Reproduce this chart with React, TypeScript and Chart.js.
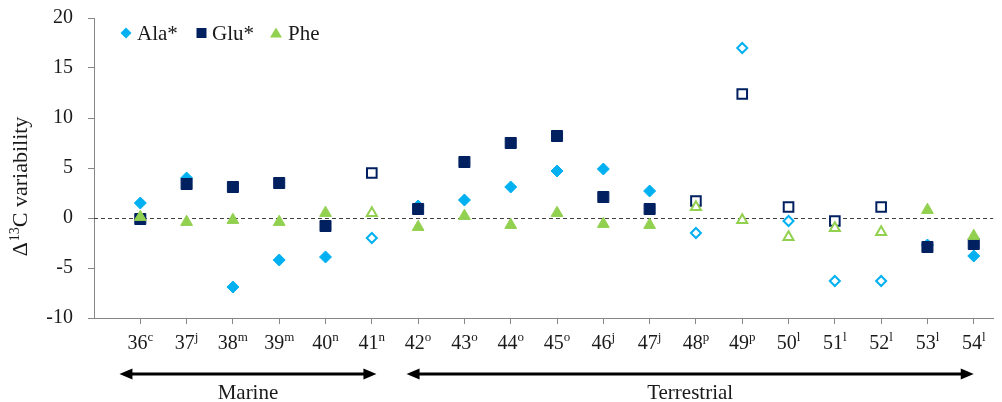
import React, { useEffect, useRef } from 'react';
import { Chart, registerables } from 'chart.js';

Chart.register(...registerables);

// ---- data ----
const categories = [36, 37, 38, 39, 40, 41, 42, 43, 44, 45, 46, 47, 48, 49, 50, 51, 52, 53, 54];
const superscripts = ['c', 'j', 'm', 'm', 'n', 'n', 'o', 'o', 'o', 'o', 'j', 'j', 'p', 'p', 'l', 'l', 'l', 'l', 'l'];
const alaValues = [1.5, 4.0, -6.9, -4.2, -3.9, -2.0, 1.2, 1.8, 3.1, 4.7, 4.9, 2.7, -1.5, 17.0, -0.3, -6.3, -6.3, -2.7, -3.8];
const gluValues = [-0.1, 3.4, 3.1, 3.5, -0.8, 4.5, 0.9, 5.6, 7.5, 8.2, 2.1, 0.9, 1.7, 12.4, 1.1, -0.3, 1.1, -2.9, -2.6];
const pheValues = [0.1, -0.4, -0.2, -0.4, 0.5, 0.5, -0.9, 0.2, -0.7, 0.5, -0.6, -0.7, 1.1, -0.2, -1.9, -1.0, -1.4, 0.8, -1.8];
const openMarkers = [false, false, false, false, false, true, false, false, false, false, false, false, true, true, true, true, true, false, false];
const yTicks = [-10, -5, 0, 5, 10, 15, 20];
const seriesNames = ['Ala*', 'Glu*', 'Phe'];
const groupLabels = ['Marine', 'Terrestrial'];
const groupStarts = [35.55, 41.75];
const groupEnds = [41.1, 54.0];

const ALA = '#00B0F0';
const GLU = '#002060';
const PHE = '#92D050';
const AXIS = '#868686';
const TEXT = '#1a1a1a';
const FONT = '"Liberation Serif", "Times New Roman", serif';

function makeDataset(label: string, values: number[], color: string, style: string, radius: number, order: number) {
  return {
    label,
    data: categories.map((x, i) => ({ x, y: values[i] })),
    pointStyle: style,
    pointRadius: openMarkers.map((o) => (o ? radius - 1 : radius)),
    pointHoverRadius: openMarkers.map((o) => (o ? radius - 1 : radius)),
    pointBackgroundColor: openMarkers.map((o) => (o ? '#ffffff' : color)),
    pointBorderColor: color,
    pointBorderWidth: openMarkers.map((o) => (o ? 2 : 1)),
    showLine: false,
    order,
    clip: false as any,
  };
}

function drawMarker(ctx: CanvasRenderingContext2D, kind: string, cx: number, cy: number, color: string) {
  ctx.fillStyle = color;
  ctx.beginPath();
  if (kind === 'diamond') {
    ctx.moveTo(cx, cy - 5.5);
    ctx.lineTo(cx + 5.5, cy);
    ctx.lineTo(cx, cy + 5.5);
    ctx.lineTo(cx - 5.5, cy);
  } else if (kind === 'square') {
    ctx.rect(cx - 5, cy - 5, 10, 10);
  } else {
    ctx.moveTo(cx, cy - 5.5);
    ctx.lineTo(cx + 6, cy + 4.5);
    ctx.lineTo(cx - 6, cy + 4.5);
  }
  ctx.closePath();
  ctx.fill();
}

const decorPlugin = {
  id: 'decor',
  beforeDatasetsDraw(chart: any) {
    const { ctx, chartArea, scales } = chart;
    const y0 = Math.round(scales.y.getPixelForValue(0)) + 0.5;
    ctx.save();
    ctx.strokeStyle = '#404040';
    ctx.lineWidth = 1;
    ctx.setLineDash([4, 3]);
    ctx.beginPath();
    ctx.moveTo(chartArea.left, y0);
    ctx.lineTo(chartArea.right, y0);
    ctx.stroke();
    ctx.restore();
  },
  afterDraw(chart: any) {
    const { ctx, scales } = chart;
    const xs = scales.x;
    ctx.save();
    ctx.fillStyle = TEXT;
    ctx.textBaseline = 'alphabetic';
    ctx.textAlign = 'left';

    // x tick labels with superscripts
    categories.forEach((c, i) => {
      const px = xs.getPixelForValue(c);
      const base = String(c);
      const sup = superscripts[i];
      ctx.font = `20px ${FONT}`;
      const wb = ctx.measureText(base).width;
      ctx.font = `13px ${FONT}`;
      const ws = ctx.measureText(sup).width;
      const start = px - (wb + ws) / 2;
      ctx.font = `20px ${FONT}`;
      ctx.fillText(base, start, 349);
      ctx.font = `13px ${FONT}`;
      ctx.fillText(sup, start + wb, 341);
    });

    // group arrows and labels
    const ay = 374;
    ctx.strokeStyle = '#000';
    ctx.fillStyle = '#000';
    groupLabels.forEach((lab, i) => {
      const x1 = xs.getPixelForValue(groupStarts[i]);
      const x2 = xs.getPixelForValue(groupEnds[i]);
      ctx.lineWidth = 3;
      ctx.beginPath();
      ctx.moveTo(x1 + 8, ay);
      ctx.lineTo(x2 - 8, ay);
      ctx.stroke();
      ctx.beginPath();
      ctx.moveTo(x1, ay);
      ctx.lineTo(x1 + 13, ay - 5.5);
      ctx.lineTo(x1 + 13, ay + 5.5);
      ctx.closePath();
      ctx.fill();
      ctx.beginPath();
      ctx.moveTo(x2, ay);
      ctx.lineTo(x2 - 13, ay - 5.5);
      ctx.lineTo(x2 - 13, ay + 5.5);
      ctx.closePath();
      ctx.fill();
      ctx.font = `21px ${FONT}`;
      ctx.textAlign = 'center';
      ctx.fillStyle = TEXT;
      ctx.fillText(lab, (x1 + x2) / 2, 399);
      ctx.fillStyle = '#000';
      ctx.textAlign = 'left';
    });

    // y axis title with superscript
    ctx.fillStyle = TEXT;
    ctx.translate(27, 187);
    ctx.rotate(-Math.PI / 2);
    const p1 = '\u0394';
    const p2 = '13';
    const p3 = 'C variability';
    ctx.font = `22px ${FONT}`;
    const w1 = ctx.measureText(p1).width;
    const w3 = ctx.measureText(p3).width;
    ctx.font = `14px ${FONT}`;
    const w2 = ctx.measureText(p2).width;
    let sx = -(w1 + w2 + w3) / 2;
    ctx.font = `22px ${FONT}`;
    ctx.fillText(p1, sx, 0);
    sx += w1 + 1;
    ctx.font = `14px ${FONT}`;
    ctx.fillText(p2, sx, -8);
    sx += w2;
    ctx.font = `22px ${FONT}`;
    ctx.fillText(p3, sx, 0);
    ctx.restore();

    // legend
    ctx.save();
    ctx.font = `21px ${FONT}`;
    ctx.fillStyle = TEXT;
    ctx.textBaseline = 'alphabetic';
    const markerX = [126, 201.5, 276];
    const textX = [137, 212, 288];
    const kinds = ['diamond', 'square', 'triangle'];
    const cols = [ALA, GLU, PHE];
    seriesNames.forEach((n, i) => {
      drawMarker(ctx, kinds[i], markerX[i], 33, cols[i]);
      ctx.fillStyle = TEXT;
      ctx.fillText(n, textX[i], 40);
    });
    ctx.restore();
  },
};

export default function App() {
  const ref = useRef<HTMLCanvasElement | null>(null);

  useEffect(() => {
    if (!ref.current) return;
    const chart = new Chart(ref.current, {
      type: 'scatter',
      data: {
        datasets: [
          makeDataset(seriesNames[0], alaValues, ALA, 'rectRot', 6, 3),
          makeDataset(seriesNames[1], gluValues, GLU, 'rect', 7.8, 2),
          makeDataset(seriesNames[2], pheValues, PHE, 'triangle', 6.8, 1),
        ] as any,
      },
      options: {
        animation: false,
        responsive: false,
        maintainAspectRatio: false,
        layout: { padding: { top: 18, right: 7, left: 0, bottom: 0 } },
        plugins: {
          legend: { display: false },
          tooltip: { enabled: false },
        },
        scales: {
          x: {
            type: 'linear',
            min: 35,
            max: 54.42,
            afterBuildTicks: (s: any) => {
              s.ticks = categories.map((v) => ({ value: v }));
            },
            ticks: { display: false, autoSkip: false },
            grid: { drawOnChartArea: false, drawTicks: true, tickLength: 6, color: AXIS },
            border: { color: AXIS, width: 1 },
            afterFit: (s: any) => {
              s.height = 84;
              s.paddingLeft = 0;
              s.paddingRight = 0;
            },
          },
          y: {
            min: -10,
            max: 20,
            afterBuildTicks: (s: any) => {
              s.ticks = yTicks.map((v) => ({ value: v }));
            },
            ticks: { font: { family: FONT, size: 20 }, color: TEXT, padding: 15 },
            grid: { drawOnChartArea: false, drawTicks: true, tickLength: 6, color: AXIS },
            border: { color: AXIS, width: 1 },
            afterFit: (s: any) => {
              s.width = 94;
              s.paddingTop = 0;
              s.paddingBottom = 0;
            },
          },
        },
      } as any,
      plugins: [decorPlugin],
    });
    return () => chart.destroy();
  }, []);

  return (
    <div style={{ position: 'absolute', left: 0, top: 0, width: 1002, height: 402, background: '#fff' }}>
      <canvas ref={ref} width={1002} height={402} style={{ display: 'block' }} />
    </div>
  );
}
